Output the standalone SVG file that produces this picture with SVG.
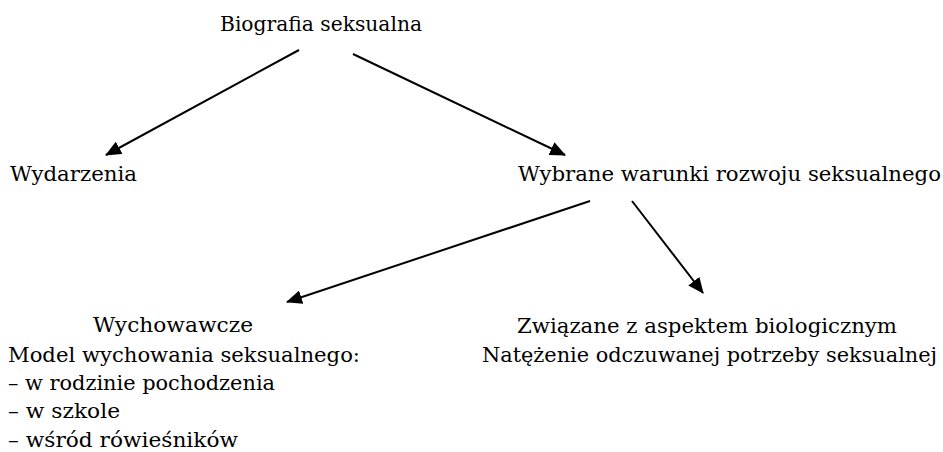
<svg xmlns="http://www.w3.org/2000/svg" width="943" height="452" viewBox="0 0 943 452">
<style>
.t{font-family:'DejaVu Serif',serif;font-size:20px;fill:#000}
.c{stroke:#000;stroke-width:2;fill:none}
</style>
<defs>
<marker id="ah" markerWidth="16" markerHeight="14" refX="15" refY="7" orient="auto" markerUnits="userSpaceOnUse">
<path d="M0,0 L16,7 L0,14 Z" fill="#000"/>
</marker>
</defs>
<rect width="943" height="452" fill="#fff"/>
<g id="connectors">
<line class="c" x1="299" y1="50" x2="106" y2="155" marker-end="url(#ah)"/>
<line class="c" x1="353" y1="54" x2="565" y2="155" marker-end="url(#ah)"/>
<line class="c" x1="590" y1="201" x2="287" y2="302" marker-end="url(#ah)"/>
<line class="c" x1="632" y1="201" x2="703" y2="293" marker-end="url(#ah)"/>
</g>
<g id="biografia"><text class="t" x="220" y="31" textLength="202" lengthAdjust="spacingAndGlyphs">Biografia seksualna</text></g>
<g id="wydarzenia"><text class="t" x="10" y="181" textLength="127" lengthAdjust="spacingAndGlyphs">Wydarzenia</text></g>
<g id="warunki"><text class="t" x="518" y="181" textLength="423" lengthAdjust="spacingAndGlyphs">Wybrane warunki rozwoju seksualnego</text></g>
<g id="wychowawcze">
<text class="t" x="93" y="332" textLength="160" lengthAdjust="spacingAndGlyphs">Wychowawcze</text>
<text class="t" x="8" y="362" textLength="352" lengthAdjust="spacingAndGlyphs">Model wychowania seksualnego:</text>
<text class="t" x="8" y="390" textLength="267" lengthAdjust="spacingAndGlyphs">– w rodzinie pochodzenia</text>
<text class="t" x="8" y="418" textLength="112" lengthAdjust="spacingAndGlyphs">– w szkole</text>
<text class="t" x="8" y="447" textLength="230" lengthAdjust="spacingAndGlyphs">– wśród rówieśników</text>
</g>
<g id="biologiczne">
<text class="t" x="517" y="333" textLength="380" lengthAdjust="spacingAndGlyphs">Związane z aspektem biologicznym</text>
<text class="t" x="482" y="362" textLength="455" lengthAdjust="spacingAndGlyphs">Natężenie odczuwanej potrzeby seksualnej</text>
</g>
</svg>
